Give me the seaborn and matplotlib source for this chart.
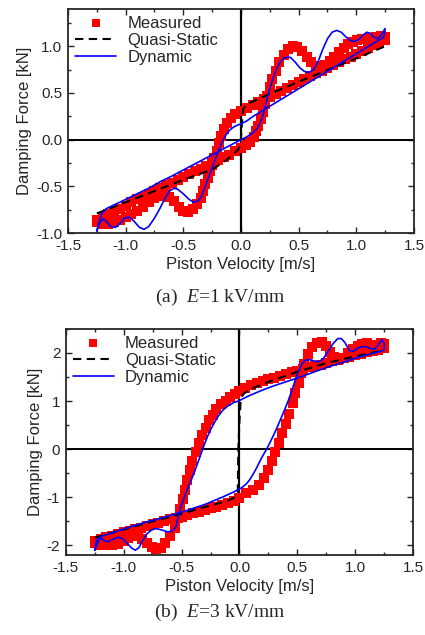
import matplotlib
matplotlib.use("Agg")
import matplotlib.pyplot as plt
from matplotlib.ticker import MultipleLocator, FormatStrFormatter
import seaborn as sns

# ---- (a) E = 1 kV/mm ----
meas_a_x = [-1.25, -1.20, -1.15, -1.10, -1.05, -1.00, -0.95, -0.90, -0.85, -0.80, -0.75, -0.70,
            -0.65, -0.60, -0.55, -0.50, -0.45, -0.40, -0.35, -0.30, -0.25, -0.20, -0.15, -0.10,
            -0.05, 0.00, 0.04, 0.08, 0.11, 0.13, 0.15, 0.17, 0.19, 0.21, 0.23, 0.25, 0.27, 0.30,
            0.33, 0.37, 0.41, 0.45, 0.49, 0.53, 0.57, 0.61, 0.65, 0.69, 0.73, 0.77, 0.81, 0.85,
            0.89, 0.93, 0.97, 1.01, 1.05, 1.09, 1.13, 1.17, 1.21, 1.25,
            1.25, 1.20, 1.15, 1.10, 1.05, 1.00, 0.95, 0.90, 0.85, 0.80, 0.75, 0.70, 0.65, 0.60,
            0.55, 0.50, 0.45, 0.40, 0.35, 0.30, 0.25, 0.20, 0.15, 0.10, 0.05, 0.00, -0.05, -0.09,
            -0.12, -0.15, -0.17, -0.19, -0.21, -0.23, -0.25, -0.27, -0.29, -0.31, -0.33, -0.35,
            -0.38, -0.42, -0.46, -0.50, -0.54, -0.58, -0.62, -0.66, -0.70, -0.75, -0.80, -0.85,
            -0.90, -0.95, -1.00, -1.05, -1.10, -1.15, -1.20, -1.25]
meas_a_y = [-0.86, -0.83, -0.80, -0.77, -0.74, -0.71, -0.67, -0.64, -0.61, -0.58, -0.55, -0.52,
            -0.49, -0.46, -0.43, -0.40, -0.37, -0.34, -0.31, -0.28, -0.25, -0.22, -0.19, -0.16,
            -0.12, -0.09, -0.06, -0.02, 0.03, 0.09, 0.15, 0.22, 0.30, 0.38, 0.47, 0.56, 0.65, 0.74,
            0.83, 0.91, 0.97, 1.00, 0.99, 0.95, 0.89, 0.83, 0.79, 0.78, 0.80, 0.84, 0.89, 0.94,
            0.98, 1.02, 1.05, 1.07, 1.08, 1.08, 1.09, 1.10, 1.11, 1.10,
            1.07, 1.04, 1.01, 0.98, 0.95, 0.92, 0.89, 0.86, 0.83, 0.80, 0.77, 0.74, 0.71, 0.68,
            0.65, 0.62, 0.58, 0.55, 0.52, 0.49, 0.46, 0.43, 0.40, 0.37, 0.34, 0.31, 0.27, 0.23,
            0.18, 0.11, 0.04, -0.04, -0.12, -0.20, -0.27, -0.34, -0.41, -0.48, -0.55, -0.62,
            -0.69, -0.74, -0.77, -0.76, -0.72, -0.66, -0.61, -0.59, -0.60, -0.63, -0.67, -0.72,
            -0.76, -0.80, -0.83, -0.86, -0.88, -0.90, -0.90, -0.88]

qs_a_x = [-1.25, -1.00, -0.75, -0.50, -0.25, -0.15, -0.07, -0.02, 0.00, 0.01, 0.02, 0.05,
          0.25, 0.50, 0.75, 1.00, 1.25]
qs_a_y = [-0.79, -0.67, -0.55, -0.43, -0.32, -0.24, -0.16, -0.10, 0.02, 0.20, 0.33, 0.38,
          0.49, 0.62, 0.745, 0.87, 1.00]

dyn_a_x = [-1.25, -1.23, -1.21, -1.17, -1.12, -1.00, -0.90, -0.80, -0.70, -0.60, -0.50, -0.40,
           -0.30, -0.20, -0.10, 0.00, 0.05, 0.10, 0.14, 0.17, 0.19, 0.21, 0.23, 0.25, 0.28, 0.31,
           0.34, 0.37, 0.40, 0.43, 0.47, 0.51, 0.55, 0.59, 0.63, 0.67, 0.71, 0.75, 0.79, 0.83,
           0.87, 0.91, 0.95, 0.98, 1.02, 1.06, 1.09, 1.12, 1.15, 1.18, 1.21, 1.23, 1.25,
           1.24, 1.20, 1.10, 1.00, 0.90, 0.80, 0.70, 0.60, 0.50, 0.40, 0.30, 0.20, 0.10, 0.05,
           0.00, -0.04, -0.07, -0.10, -0.13, -0.16, -0.19, -0.22, -0.25, -0.28, -0.31, -0.34,
           -0.37, -0.41, -0.45, -0.50, -0.55, -0.58, -0.62, -0.66, -0.70, -0.75, -0.80, -0.84,
           -0.88, -0.93, -0.97, -1.01, -1.05, -1.09, -1.13, -1.17, -1.20, -1.22, -1.25]
dyn_a_y = [-0.975, -0.88, -0.80, -0.74, -0.71, -0.64, -0.58, -0.52, -0.45, -0.39, -0.325, -0.26,
           -0.195, -0.13, -0.065, 0.00, 0.03, 0.07, 0.12, 0.19, 0.26, 0.35, 0.45, 0.55, 0.66, 0.76,
           0.83, 0.87, 0.885, 0.88, 0.83, 0.77, 0.73, 0.72, 0.75, 0.84, 0.97, 1.08, 1.15, 1.17,
           1.15, 1.10, 1.06, 1.05, 1.07, 1.12, 1.15, 1.14, 1.10, 1.08, 1.11, 1.15, 1.19,
           1.10, 1.07, 0.995, 0.92, 0.845, 0.77, 0.695, 0.62, 0.545, 0.47, 0.395, 0.32, 0.245, 0.20,
           0.17, 0.15, 0.13, 0.10, 0.05, -0.02, -0.10, -0.20, -0.30, -0.40, -0.50, -0.60,
           -0.655, -0.67, -0.64, -0.58, -0.53, -0.52, -0.55, -0.63, -0.73, -0.84, -0.93, -0.96,
           -0.94, -0.87, -0.83, -0.84, -0.90, -0.94, -0.93, -0.87, -0.85, -0.88, -0.975]

# ---- (b) E = 3 kV/mm ----
meas_b_x = [-1.25, -1.20, -1.15, -1.10, -1.05, -1.00, -0.95, -0.90, -0.85, -0.80, -0.75, -0.70,
            -0.65, -0.60, -0.55, -0.50, -0.45, -0.40, -0.35, -0.30, -0.25, -0.20, -0.15, -0.10,
            -0.05, 0.00, 0.06, 0.12, 0.17, 0.21, 0.25, 0.28, 0.31, 0.34, 0.37, 0.40, 0.43, 0.46,
            0.48, 0.51, 0.53, 0.56, 0.59, 0.63, 0.67, 0.71, 0.75, 0.78, 0.82, 0.86, 0.90, 0.94,
            0.98, 1.02, 1.06, 1.10, 1.14, 1.18, 1.22, 1.25,
            1.25, 1.20, 1.15, 1.10, 1.05, 1.00, 0.95, 0.90, 0.85, 0.80, 0.75, 0.70, 0.65, 0.60,
            0.55, 0.50, 0.45, 0.40, 0.35, 0.30, 0.25, 0.20, 0.15, 0.10, 0.05, 0.00, -0.04, -0.08,
            -0.12, -0.16, -0.20, -0.23, -0.26, -0.29, -0.32, -0.35, -0.38, -0.41, -0.43, -0.45,
            -0.47, -0.49, -0.51, -0.53, -0.56, -0.60, -0.64, -0.68, -0.72, -0.76, -0.80, -0.84,
            -0.88, -0.92, -0.96, -1.00, -1.05, -1.10, -1.15, -1.20, -1.25]
meas_b_y = [-1.90, -1.87, -1.83, -1.80, -1.76, -1.73, -1.70, -1.66, -1.63, -1.60, -1.56, -1.53,
            -1.50, -1.46, -1.43, -1.40, -1.37, -1.33, -1.30, -1.27, -1.23, -1.20, -1.16, -1.12,
            -1.07, -1.02, -0.92, -0.84, -0.74, -0.60, -0.43, -0.25, -0.06, 0.13, 0.33, 0.53, 0.74,
            0.95, 1.16, 1.37, 1.58, 1.78, 1.97, 2.12, 2.21, 2.22, 2.14, 2.03, 1.92, 1.87, 1.90,
            1.99, 2.08, 2.15, 2.19, 2.20, 2.17, 2.16, 2.20, 2.19,
            2.10, 2.07, 2.04, 2.01, 1.98, 1.95, 1.92, 1.89, 1.86, 1.83, 1.80, 1.76, 1.73, 1.70,
            1.66, 1.63, 1.60, 1.56, 1.53, 1.49, 1.46, 1.42, 1.38, 1.33, 1.27, 1.20, 1.14, 1.08,
            1.01, 0.93, 0.83, 0.72, 0.60, 0.45, 0.30, 0.12, -0.06, -0.25, -0.44, -0.64,
            -0.84, -1.04, -1.24, -1.44, -1.63, -1.80, -1.95, -2.05, -2.08, -2.04, -1.95, -1.86,
            -1.81, -1.81, -1.85, -1.91, -1.97, -2.00, -2.00, -1.99, -1.96]

qs_b_x = [-1.25, -1.00, -0.75, -0.50, -0.25, -0.10, -0.04, -0.015, -0.01, 0.00, 0.01, 0.02,
          0.04, 0.10, 0.25, 0.50, 0.75, 1.00, 1.25]
qs_b_y = [-1.84, -1.67, -1.50, -1.34, -1.17, -1.07, -1.00, -0.90, 0.00, 0.60, 1.00, 1.10,
          1.16, 1.25, 1.40, 1.61, 1.79, 1.93, 2.06]

dyn_b_x = [-1.25, -1.24, -1.22, -1.18, -1.10, -1.00, -0.90, -0.80, -0.70, -0.60, -0.50, -0.40,
           -0.30, -0.23, -0.15, -0.05, 0.02, 0.06, 0.09, 0.12, 0.15, 0.18, 0.21, 0.235, 0.27,
           0.30, 0.33, 0.36, 0.39, 0.42, 0.45, 0.48, 0.51, 0.54, 0.57, 0.61, 0.65, 0.69, 0.73,
           0.77, 0.81, 0.85, 0.88, 0.91, 0.95, 0.98, 1.02, 1.06, 1.10, 1.14, 1.17, 1.20, 1.23,
           1.25, 1.25,
           1.20, 1.10, 1.00, 0.90, 0.78, 0.65, 0.50, 0.40, 0.30, 0.20, 0.10, 0.03, 0.00, -0.05,
           -0.10, -0.14, -0.18, -0.21, -0.24, -0.27, -0.30, -0.33, -0.36, -0.39, -0.42, -0.45,
           -0.48, -0.51, -0.53, -0.55, -0.58, -0.62, -0.67, -0.72, -0.76, -0.80, -0.84, -0.87,
           -0.90, -0.93, -0.97, -1.01, -1.05, -1.09, -1.13, -1.16, -1.19, -1.21, -1.23, -1.25]
dyn_b_y = [-2.10, -1.95, -1.85, -1.80, -1.74, -1.66, -1.58, -1.51, -1.45, -1.38, -1.31, -1.23,
           -1.15, -1.08, -1.00, -0.89, -0.80, -0.72, -0.63, -0.51, -0.38, -0.23, -0.10, 0.00, 0.17,
           0.32, 0.48, 0.65, 0.82, 1.00, 1.20, 1.42, 1.62, 1.78, 1.85, 1.86, 1.83, 1.82, 1.90,
           2.05, 2.20, 2.30, 2.30, 2.22, 2.05, 2.03, 2.10, 2.13, 2.13, 2.08, 2.08, 2.17, 2.28,
           2.20, 2.06,
           2.02, 1.96, 1.89, 1.81, 1.72, 1.61, 1.48, 1.40, 1.32, 1.23, 1.13, 1.05, 1.01, 0.97,
           0.90, 0.82, 0.70, 0.58, 0.45, 0.30, 0.12, -0.08, -0.28, -0.48, -0.66, -0.83,
           -1.02, -1.22, -1.42, -1.62, -1.70, -1.72, -1.68, -1.65, -1.68, -1.76, -1.92, -2.05,
           -2.10, -2.06, -1.96, -1.86, -1.83, -1.87, -1.92, -1.91, -1.86, -1.88, -1.98, -2.10]

x_ticks = [-1.5, -1.0, -0.5, 0.0, 0.5, 1.0, 1.5]
captions = ["(a)  $\\mathit{E}$=1 kV/mm", "(b)  $\\mathit{E}$=3 kV/mm"]

sns.set_style("ticks")
plt.rcParams["font.family"] = ["Liberation Sans", "DejaVu Sans"]
plt.rcParams["axes.unicode_minus"] = False
plt.rcParams["mathtext.fontset"] = "custom"
plt.rcParams["mathtext.it"] = "Liberation Serif:italic"
plt.rcParams["mathtext.rm"] = "Liberation Serif"


def draw_panel(ax, mx, my, qx, qy, dx, dy, ylim, ymajor, yfmt):
    sns.scatterplot(x=mx, y=my, ax=ax, marker="s", s=52, color="#ff0000",
                    linewidth=0, label="Measured", zorder=2)
    sns.lineplot(x=qx, y=qy, ax=ax, sort=False, estimator=None, color="black",
                 lw=1.5, label="Quasi-Static", zorder=3)
    ax.lines[-1].set_dashes([4, 2.6])
    sns.lineplot(x=dx, y=dy, ax=ax, sort=False, estimator=None, color="#0000ff",
                 lw=1.2, label="Dynamic", zorder=4)
    ax.axhline(0, color="black", lw=1.4, zorder=1)
    ax.axvline(0, color="black", lw=1.6, zorder=1)

    ax.set_xlim(-1.5, 1.5)
    ax.set_ylim(*ylim)
    ax.set_xticks(x_ticks)
    ax.xaxis.set_major_formatter(FormatStrFormatter("%.1f"))
    ax.xaxis.set_minor_locator(MultipleLocator(0.25))
    ax.yaxis.set_major_locator(MultipleLocator(ymajor))
    ax.yaxis.set_minor_locator(MultipleLocator(ymajor / 2))
    ax.yaxis.set_major_formatter(FormatStrFormatter(yfmt))
    ax.tick_params(which="both", direction="in", top=True, right=True,
                   labelsize=11, width=1.0, pad=4)
    ax.tick_params(which="major", length=4)
    ax.tick_params(which="minor", length=2.5)
    for sp in ax.spines.values():
        sp.set_linewidth(1.3)
        sp.set_visible(True)
    ax.set_xlabel("Piston Velocity [m/s]", fontsize=12, labelpad=3)
    ax.set_ylabel("Damping Force [kN]", fontsize=12, labelpad=3)
    ax.legend(loc="upper left", bbox_to_anchor=(0.0, 1.0), frameon=False,
              fontsize=12, borderaxespad=0, borderpad=0.4, handlelength=2.5,
              handletextpad=0.65, labelspacing=0.12, markerscale=0.7)


fig = plt.figure(figsize=(4.25, 6.35), dpi=100)
ax1 = fig.add_axes([0.160, 0.633, 0.814, 0.353])
ax2 = fig.add_axes([0.155, 0.126, 0.817, 0.356])

draw_panel(ax1, meas_a_x, meas_a_y, qs_a_x, qs_a_y, dyn_a_x, dyn_a_y,
           (-1.0, 1.4), 0.5, "%.1f")
draw_panel(ax2, meas_b_x, meas_b_y, qs_b_x, qs_b_y, dyn_b_x, dyn_b_y,
           (-2.2, 2.5), 1.0, "%d")

fig.text(0.518, 0.531, captions[0], ha="center", va="center", fontsize=14,
         family="Liberation Serif")
fig.text(0.518, 0.035, captions[1], ha="center", va="center", fontsize=14,
         family="Liberation Serif")

fig.savefig("out.png", dpi=100)
